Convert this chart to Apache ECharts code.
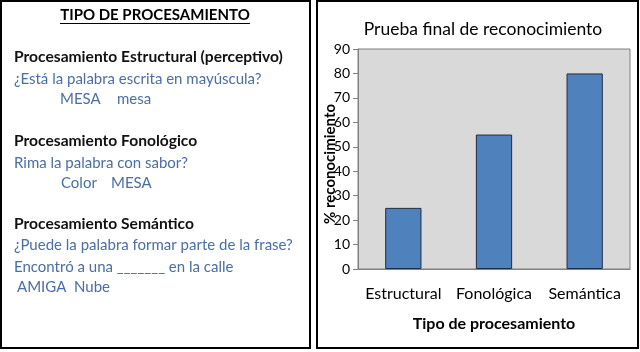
<!DOCTYPE html>
<html><head><meta charset="utf-8">
<script src="https://cdn.jsdelivr.net/npm/echarts@6/dist/echarts.min.js"></script>
<style>html,body{margin:0;padding:0;background:#fff}#c{width:640px;height:352px}</style>
</head><body><div id="c"></div>
<script>
const categories = ['Estructural', 'Fonológica', 'Semántica'];
const values = [25, 55, 80];
const yTicks = [0, 10, 20, 30, 40, 50, 60, 70, 80, 90];
const chartTitle = 'Prueba final de reconocimiento';
const xName = 'Tipo de procesamiento';
const yName = '% reconocimiento';
const panelTitle = 'TIPO DE PROCESAMIENTO';
const panelTexts = [
  ['Procesamiento Estructural (perceptivo)', 'h'],
  ['¿Está la palabra escrita en mayúscula?', 'b'],
  ['MESA', 'b'], ['mesa', 'b'],
  ['Procesamiento Fonológico', 'h'],
  ['Rima la palabra con sabor?', 'b'],
  ['Color', 'b'], ['MESA', 'b'],
  ['Procesamiento Semántico', 'h'],
  ['¿Puede la palabra formar parte de la frase?', 'b'],
  ['Encontró a una _______ en la calle', 'b'],
  ['AMIGA', 'b'], ['Nube', 'b']
];

const FONT = 'Lato, "Open Sans", sans-serif';
const BLUE = '#4a6ea6';
const chart = echarts.init(document.getElementById('c'), null, {renderer: 'canvas'});

const pos = [[14, 57], [14, 79], [60, 99], [117, 99], [14, 141], [14, 163], [61, 183], [111, 183],
  [14, 224], [14, 245], [14, 267], [17, 287], [74, 287]];
const graphics = [
  {type: 'rect', shape: {x: 1, y: 1, width: 309, height: 347}, style: {fill: 'none', stroke: '#000', lineWidth: 2}, z: 0},
  {type: 'rect', shape: {x: 317, y: 1, width: 321, height: 347}, style: {fill: 'none', stroke: '#000', lineWidth: 2}, z: 0},
  {type: 'text', x: 155, y: 15, style: {text: panelTitle, font: 'bold 15px ' + FONT, fill: '#000', align: 'center', verticalAlign: 'middle'}},
  {type: 'line', shape: {x1: 60, y1: 23.5, x2: 250, y2: 23.5}, style: {stroke: '#000', lineWidth: 1}}
];
panelTexts.forEach((l, i) => {
  graphics.push({type: 'text', x: pos[i][0], y: pos[i][1], style: {
    text: l[0], font: (l[1] === 'h' ? 'bold 15.6px ' : '15px ') + FONT,
    fill: l[1] === 'h' ? '#111' : BLUE, verticalAlign: 'middle'
  }});
});

chart.setOption({
  animation: false,
  backgroundColor: '#fff',
  title: {text: chartTitle, left: 478, top: 15, textAlign: 'center',
    textStyle: {fontFamily: FONT, fontSize: 17.5, fontWeight: 'normal', color: '#000'}},
  grid: {left: 358, right: 10, top: 49, bottom: 83, show: true, backgroundColor: '#d9d9d9', borderColor: '#808080', borderWidth: 1},
  xAxis: {type: 'category', data: categories,
    name: xName, nameLocation: 'middle', nameGap: 47,
    nameTextStyle: {fontFamily: FONT, fontSize: 16, fontWeight: 'bold', color: '#000'},
    axisLine: {lineStyle: {color: '#808080'}}, axisTick: {show: false},
    axisLabel: {interval: 0, fontFamily: FONT, fontSize: 16, color: '#000', margin: 17}},
  yAxis: {type: 'value', min: yTicks[0], max: yTicks[yTicks.length - 1], interval: 10,
    name: yName, nameLocation: 'middle', nameGap: 20, nameMoveOverlap: false,
    nameTextStyle: {fontFamily: FONT, fontSize: 15, fontWeight: 'bold', color: '#000', padding: [0, 10, 0, 0]},
    axisLine: {show: true, lineStyle: {color: '#808080'}},
    axisTick: {show: true, length: 5, lineStyle: {color: '#808080'}},
    splitLine: {show: false},
    axisLabel: {fontFamily: FONT, fontSize: 14, color: '#000', margin: 8}},
  series: [{type: 'bar', data: values, barWidth: '40%',
    itemStyle: {color: '#4f81bd', borderColor: '#1f2d45', borderWidth: 1}}],
  graphic: graphics
});
</script></body></html>
